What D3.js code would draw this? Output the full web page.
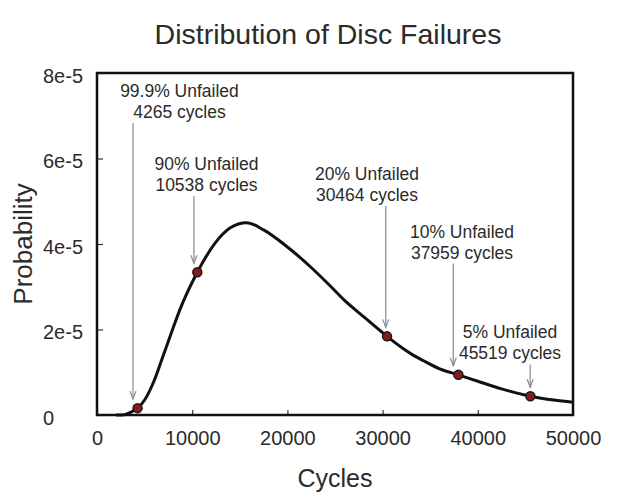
<!DOCTYPE html>
<html>
<head>
<meta charset="utf-8">
<script src="https://cdn.jsdelivr.net/npm/d3@7/dist/d3.min.js"></script>
<style>
  body { margin: 0; background: #fff; }
  text { font-family: "Liberation Sans", Arial, sans-serif; fill: #2b2b2b; }
</style>
</head>
<body>
<svg></svg>
<script>
// curve (cycles, probability)
var cycles = [2000, 2700, 3500, 4265, 5000, 6000, 6800, 8000, 8700, 10538, 12400, 14000, 15700,
              17500, 20000, 22500, 24400, 26000, 28000, 30464, 32000, 33000, 34300, 36000, 37959,
              40000, 42500, 45519, 48000, 50000]
var prob = [0, 0, 0.06e-5, 0.16e-5, 0.35e-5, 0.8e-5, 1.29e-5, 2.04e-5, 2.46e-5, 3.34e-5, 4.02e-5, 4.38e-5, 4.50e-5,
            4.33e-5, 3.93e-5, 3.45e-5, 3.04e-5, 2.68e-5, 2.30e-5, 1.84e-5, 1.58e-5, 1.43e-5, 1.27e-5, 1.08e-5, 0.94e-5,
            0.79e-5, 0.61e-5, 0.44e-5, 0.35e-5, 0.30e-5]

// annotated points
var notePct = ["99.9%", "90%", "20%", "10%", "5%"]
var noteCycles = [4265, 10538, 30464, 37959, 45519]
var noteProb = [0.16e-5, 3.34e-5, 1.84e-5, 0.94e-5, 0.44e-5]
// where the label sits (centre of first line, data units)
var labelCycles = [8666, 11502, 28361, 38340, 43382]
var labelProb = [7.58e-5, 5.87e-5, 5.64e-5, 4.29e-5, 1.93e-5]
// arrow x (data units), a touch off the point in the original
var arrowCycles = [3780, 10180, 30330, 37420, 45500]

var xTicks = [0, 10000, 20000, 30000, 40000, 50000]
var yTicks = [0, 2e-5, 4e-5, 6e-5, 8e-5]
var yTickLabels = ["0", "2e-5", "4e-5", "6e-5", "8e-5"]

var svg = d3.select("svg")
    .attr("width", 622)
    .attr("height", 495)

var pLeft = 97, pRight = 573, pTop = 73, pBottom = 415

var x = d3.scaleLinear().domain([0, 50000]).range([pLeft, pRight])
var y = d3.scaleLinear().domain([0, 8e-5]).range([pBottom, pTop])

// title
svg.append("text")
    .attr("x", 328)
    .attr("y", 44)
    .attr("text-anchor", "middle")
    .style("font-size", "28.5px")
    .text("Distribution of Disc Failures")

// x axis, ticks pointing in
var xAxis = svg.append("g")
    .attr("transform", "translate(0," + pBottom + ")")
    .call(d3.axisBottom(x).tickValues(xTicks).tickSize(-5).tickPadding(12).tickFormat(d3.format("d")))
xAxis.select(".domain").remove()
xAxis.selectAll("line").attr("stroke", "#333").attr("stroke-width", 1.2)
xAxis.selectAll("text")
    .attr("y", 30).attr("dy", null)
    .style("font-size", "20px")
    .style("font-family", "Liberation Sans, Arial, sans-serif")
    .attr("fill", "#2b2b2b")

// y axis, labels left aligned as in the picture
var yAxis = svg.append("g")
    .attr("transform", "translate(" + pLeft + ",0)")
    .call(d3.axisLeft(y).tickValues(yTicks).tickSize(-6).tickFormat(function (d, i) { return yTickLabels[i] }))
yAxis.select(".domain").remove()
yAxis.selectAll("line").attr("stroke", "#333").attr("stroke-width", 1.2)
yAxis.selectAll("text")
    .attr("text-anchor", "start")
    .attr("x", 43 - pLeft)
    .attr("dy", null)
    .attr("y", 9)
    .style("font-size", "20px")
    .style("font-family", "Liberation Sans, Arial, sans-serif")
    .attr("fill", "#2b2b2b")

// axis titles
svg.append("text")
    .attr("x", (pLeft + pRight) / 2)
    .attr("y", 487)
    .attr("text-anchor", "middle")
    .style("font-size", "25px")
    .text("Cycles")

svg.append("text")
    .attr("transform", "translate(32,244) rotate(-90)")
    .attr("text-anchor", "middle")
    .style("font-size", "26px")
    .text("Probability")

// the curve
var pts = cycles.map(function (c, i) { return [c, prob[i]] })
var line = d3.line()
    .x(function (d) { return x(d[0]) })
    .y(function (d) { return y(d[1]) })
    .curve(d3.curveMonotoneX)

svg.append("path")
    .datum(pts)
    .attr("d", line)
    .attr("fill", "none")
    .attr("stroke", "#111")
    .attr("stroke-width", 3)

// annotations: text, arrow, point
for (var i = 0; i < notePct.length; i++) {
    var lx = x(labelCycles[i]), ly = y(labelProb[i])
    var t = svg.append("text")
        .attr("x", lx)
        .attr("y", ly + 6)
        .attr("text-anchor", "middle")
        .style("font-size", "17.5px")
    t.append("tspan").attr("x", lx).text(notePct[i] + " Unfailed")
    t.append("tspan").attr("x", lx).attr("dy", 21).text(noteCycles[i] + " cycles")

    var ax = x(arrowCycles[i])
    var y0 = ly + 21 + 11
    var y1 = y(noteProb[i]) - 9
    svg.append("line")
        .attr("x1", ax).attr("x2", ax)
        .attr("y1", y0).attr("y2", y1)
        .attr("stroke", "#8a8a8a")
        .attr("stroke-width", 1.2)
    svg.append("path")
        .attr("d", "M" + (ax - 3) + "," + (y1 - 8) + "L" + ax + "," + y1 + "L" + (ax + 3) + "," + (y1 - 8))
        .attr("fill", "none")
        .attr("stroke", "#8a8a8a")
        .attr("stroke-width", 1.2)
}

svg.selectAll(".pt")
    .data(noteCycles)
    .enter().append("circle")
    .attr("class", "pt")
    .attr("cx", function (d) { return x(d) })
    .attr("cy", function (d, i) { return y(noteProb[i]) })
    .attr("r", 4.5)
    .attr("fill", "#8b1a1a")
    .attr("stroke", "#1a1a1a")
    .attr("stroke-width", 1.5)

// frame
svg.append("rect")
    .attr("x", pLeft)
    .attr("y", pTop)
    .attr("width", pRight - pLeft)
    .attr("height", pBottom - pTop)
    .attr("fill", "none")
    .attr("stroke", "#111")
    .attr("stroke-width", 2.5)
</script>
</body>
</html>
